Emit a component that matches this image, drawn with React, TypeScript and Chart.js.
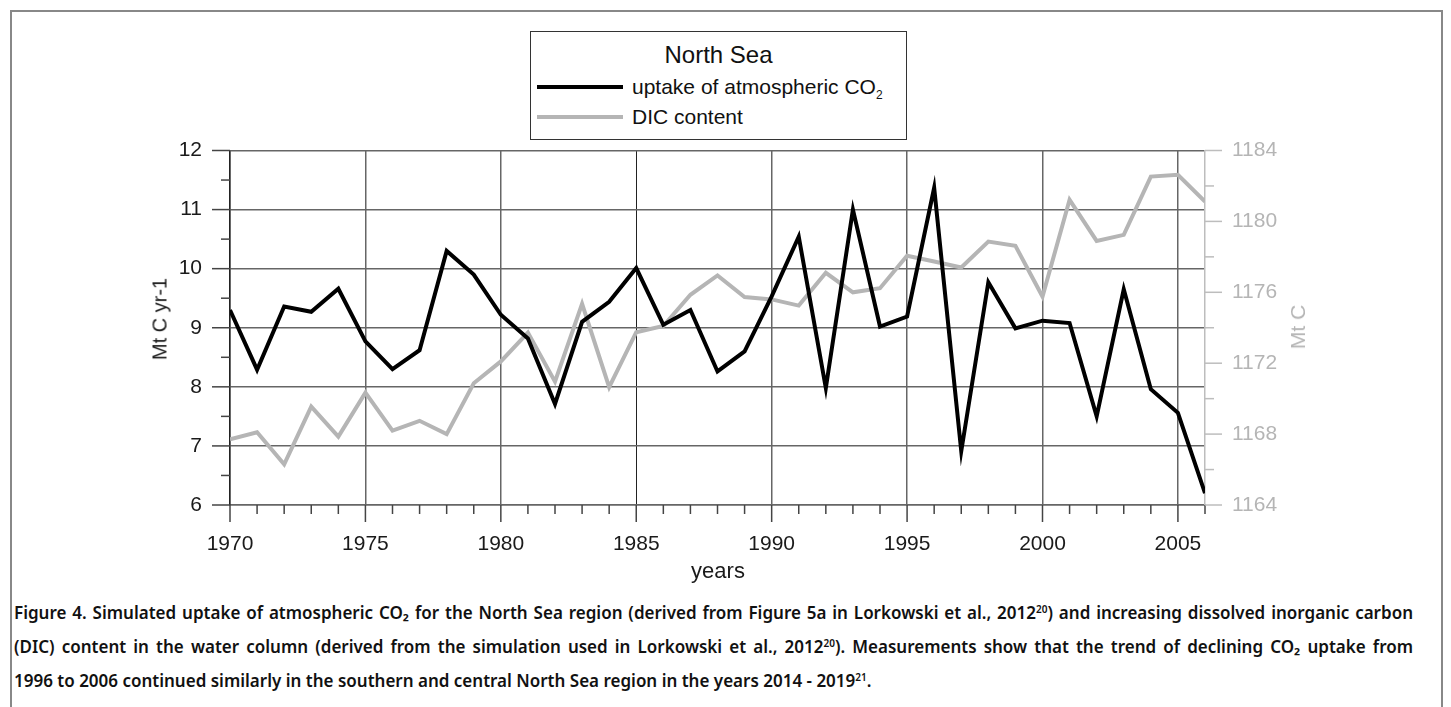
import React, { useEffect, useRef } from 'react';
import { Chart, registerables } from 'chart.js';

Chart.register(...registerables);

const years = [
  1970, 1971, 1972, 1973, 1974, 1975, 1976, 1977, 1978, 1979,
  1980, 1981, 1982, 1983, 1984, 1985, 1986, 1987, 1988, 1989,
  1990, 1991, 1992, 1993, 1994, 1995, 1996, 1997, 1998, 1999,
  2000, 2001, 2002, 2003, 2004, 2005, 2006,
];

// uptake of atmospheric CO2 (Mt C yr-1), left axis
const uptake = [
  9.30, 8.29, 9.36, 9.27, 9.66, 8.77, 8.30, 8.62, 10.30, 9.90,
  9.22, 8.82, 7.71, 9.10, 9.44, 10.01, 9.05, 9.30, 8.26, 8.60,
  9.53, 10.54, 7.98, 11.00, 9.02, 9.19, 11.37, 6.91, 9.77, 8.99,
  9.12, 9.08, 7.50, 9.65, 7.96, 7.56, 6.20,
];

// DIC content (Mt C), right axis
const dic = [
  1167.7, 1168.1, 1166.3, 1169.55, 1167.86, 1170.34, 1168.2, 1168.75, 1168.0, 1170.87,
  1172.1, 1173.73, 1170.96, 1175.35, 1170.65, 1173.75, 1174.1, 1175.86, 1176.95, 1175.73,
  1175.6, 1175.25, 1177.1, 1176.0, 1176.23, 1178.06, 1177.74, 1177.4, 1178.86, 1178.62,
  1175.76, 1181.22, 1178.9, 1179.24, 1182.53, 1182.63, 1181.12,
];

const xTickLabels = [1970, 1975, 1980, 1985, 1990, 1995, 2000, 2005];
const leftTickLabels = [6, 7, 8, 9, 10, 11, 12];
const rightTickLabels = [1164, 1168, 1172, 1176, 1180, 1184];

const FONT = "'Liberation Sans', Arial, sans-serif";
const GRAY_SERIES = '#b5b5b5';
const RIGHT_AXIS = '#bdbdbd';

const tickMarks = {
  id: 'tickMarks',
  afterDraw(chart: any) {
    const { ctx, scales } = chart;
    const x = scales.x;
    const y = scales.y;
    const y1 = scales.y1;
    ctx.save();
    ctx.lineWidth = 1.5;
    ctx.strokeStyle = '#444';
    const bottom = chart.chartArea.bottom;
    x.ticks.forEach((t: any) => {
      const px = x.getPixelForValue(t.value);
      const len = xTickLabels.includes(t.value) ? 17 : 9;
      ctx.beginPath();
      ctx.moveTo(px, bottom);
      ctx.lineTo(px, bottom + len);
      ctx.stroke();
    });
    const left = chart.chartArea.left;
    y.ticks.forEach((t: any) => {
      const py = y.getPixelForValue(t.value);
      const len = leftTickLabels.includes(t.value) ? 18 : 9;
      ctx.beginPath();
      ctx.moveTo(left, py);
      ctx.lineTo(left - len, py);
      ctx.stroke();
    });
    const right = chart.chartArea.right;
    ctx.strokeStyle = RIGHT_AXIS;
    y1.ticks.forEach((t: any) => {
      const py = y1.getPixelForValue(t.value);
      const len = rightTickLabels.includes(t.value) ? 17 : 9;
      ctx.beginPath();
      ctx.moveTo(right, py);
      ctx.lineTo(right + len, py);
      ctx.stroke();
    });
    ctx.restore();
  },
};

function ChartCanvas() {
  const ref = useRef<HTMLCanvasElement | null>(null);
  useEffect(() => {
    if (!ref.current) return;
    const chart = new Chart(ref.current, {
      type: 'line',
      data: {
        datasets: [
          {
            label: 'uptake of atmospheric CO2',
            data: years.map((yr, i) => ({ x: yr, y: uptake[i] })),
            borderColor: '#000000',
            backgroundColor: '#000000',
            borderWidth: 4,
            pointRadius: 0,
            tension: 0,
            yAxisID: 'y',
          },
          {
            label: 'DIC content',
            data: years.map((yr, i) => ({ x: yr, y: dic[i] })),
            borderColor: GRAY_SERIES,
            backgroundColor: GRAY_SERIES,
            borderWidth: 4,
            pointRadius: 0,
            tension: 0,
            yAxisID: 'y1',
          },
        ],
      },
      options: {
        responsive: false,
        animation: false,
        layout: { padding: { top: 150.5, left: 0, right: 0, bottom: 0 } },
        plugins: {
          legend: { display: false },
          tooltip: { enabled: false },
          title: { display: false },
        },
        scales: {
          x: {
            type: 'linear',
            min: 1970,
            max: 2006,
            afterFit: (s: any) => { s.height = 65; },
            ticks: {
              stepSize: 1,
              autoSkip: false,
              maxRotation: 0,
              padding: 10,
              color: '#1a1a1a',
              font: { family: FONT, size: 21 },
              callback: (v: any) => (xTickLabels.includes(Number(v)) ? String(v) : ''),
            },
            grid: {
              color: (c: any) => (c.tick && xTickLabels.includes(c.tick.value) ? (c.tick.value === 1985 ? '#222' : '#666') : 'rgba(0,0,0,0)'),
              lineWidth: (c: any) => (c.tick && c.tick.value === 1985 ? 1 : 1.5),
              drawTicks: true,
              tickLength: 17,
              tickColor: 'rgba(0,0,0,0)',
            },
            border: { display: true, color: '#666', width: 1.5 },
          },
          y: {
            type: 'linear',
            position: 'left',
            min: 6,
            max: 12,
            afterFit: (s: any) => { s.width = 230; },
            ticks: {
              stepSize: 0.5,
              autoSkip: false,
              padding: 10,
              color: '#1a1a1a',
              font: { family: FONT, size: 21 },
              callback: (v: any) => (leftTickLabels.includes(Number(v)) ? String(v) : ''),
            },
            grid: {
              color: (c: any) => (c.tick && leftTickLabels.includes(c.tick.value) ? '#666' : 'rgba(0,0,0,0)'),
              lineWidth: 1.5,
              drawTicks: true,
              tickLength: 18,
              tickColor: 'rgba(0,0,0,0)',
            },
            border: { display: true, color: '#222', width: 1.5 },
          },
          y1: {
            type: 'linear',
            position: 'right',
            min: 1164,
            max: 1184,
            afterFit: (s: any) => { s.width = 246; },
            ticks: {
              stepSize: 2,
              autoSkip: false,
              padding: 10,
              color: '#b5b5b5',
              font: { family: FONT, size: 21 },
              callback: (v: any) => (rightTickLabels.includes(Number(v)) ? String(v) : ''),
            },
            grid: {
              drawOnChartArea: false,
              drawTicks: true,
              tickLength: 17,
              tickColor: 'rgba(0,0,0,0)',
            },
            border: { display: true, color: RIGHT_AXIS, width: 1.5 },
          },
        },
      },
      plugins: [tickMarks],
    } as any);
    return () => chart.destroy();
  }, []);
  return <canvas ref={ref} width={1451} height={570} style={{ position: 'absolute', left: 0, top: 0 }} />;
}

const abs = (s: React.CSSProperties): React.CSSProperties => ({ position: 'absolute', ...s });

export default function App() {
  const capStyle: React.CSSProperties = {
    position: 'absolute',
    left: 14,
    width: 1399,
    height: 34,
    lineHeight: '34px',
    fontFamily: "'Noto Sans', sans-serif",
    fontWeight: 600,
    fontSize: 17,
    color: '#111',
    whiteSpace: 'nowrap',
  };
  const justify: React.CSSProperties = { textAlign: 'justify', textAlignLast: 'justify' } as any;
  const sup: React.CSSProperties = { fontSize: 10, verticalAlign: 'top', lineHeight: '26px' };
  return (
    <div style={abs({ left: 0, top: 0, width: 1451, height: 707, background: '#fff', overflow: 'hidden' })}>
      <div style={abs({ left: 10, top: 10, width: 1433, height: 720, border: '2px solid #888', boxSizing: 'border-box' })} />
      <ChartCanvas />
      {/* legend */}
      <div style={abs({ left: 530, top: 31, width: 377, height: 109, border: '1.5px solid #333', boxSizing: 'border-box', background: '#fff', fontFamily: FONT, color: '#111' })}>
        <div style={abs({ left: 0, width: '100%', top: 8, textAlign: 'center', fontSize: 24, lineHeight: '30px' })}>North Sea</div>
        <div style={abs({ left: 6, top: 53, width: 86, height: 4, background: '#000' })} />
        <div style={abs({ left: 101, top: 41, fontSize: 21, lineHeight: '28px', whiteSpace: 'nowrap' })}>
          uptake of atmospheric CO<sub style={{ fontSize: 12, lineHeight: 0 }}>2</sub>
        </div>
        <div style={abs({ left: 6, top: 83, width: 86, height: 4, background: GRAY_SERIES })} />
        <div style={abs({ left: 101, top: 71, fontSize: 21, lineHeight: '28px', whiteSpace: 'nowrap' })}>DIC content</div>
      </div>
      {/* axis titles */}
      <div style={abs({ left: 160, top: 319, transform: 'translate(-50%, -50%) rotate(-90deg)', fontFamily: FONT, fontSize: 20, color: '#1a1a1a', whiteSpace: 'nowrap' })}>Mt C yr-1</div>
      <div style={abs({ left: 1298, top: 327, transform: 'translate(-50%, -50%) rotate(-90deg)', fontFamily: FONT, fontSize: 21, color: '#b5b5b5', whiteSpace: 'nowrap' })}>Mt C</div>
      <div style={abs({ left: 718, top: 571, transform: 'translate(-50%, -50%)', fontFamily: FONT, fontSize: 22, color: '#1a1a1a', whiteSpace: 'nowrap' })}>years</div>
      {/* caption */}
      <div style={{ ...capStyle, ...justify, top: 596 }}>
        Figure 4. Simulated uptake of atmospheric CO₂ for the North Sea region (derived from Figure 5a in Lorkowski et al., 2012<span style={sup}>20</span>) and increasing dissolved inorganic carbon
      </div>
      <div style={{ ...capStyle, ...justify, top: 630 }}>
        (DIC) content in the water column (derived from the simulation used in Lorkowski et al., 2012<span style={sup}>20</span>). Measurements show that the trend of declining CO₂ uptake from
      </div>
      <div style={{ ...capStyle, top: 664 }}>
        1996 to 2006 continued similarly in the southern and central North Sea region in the years 2014 - 2019<span style={sup}>21</span>.
      </div>
    </div>
  );
}
